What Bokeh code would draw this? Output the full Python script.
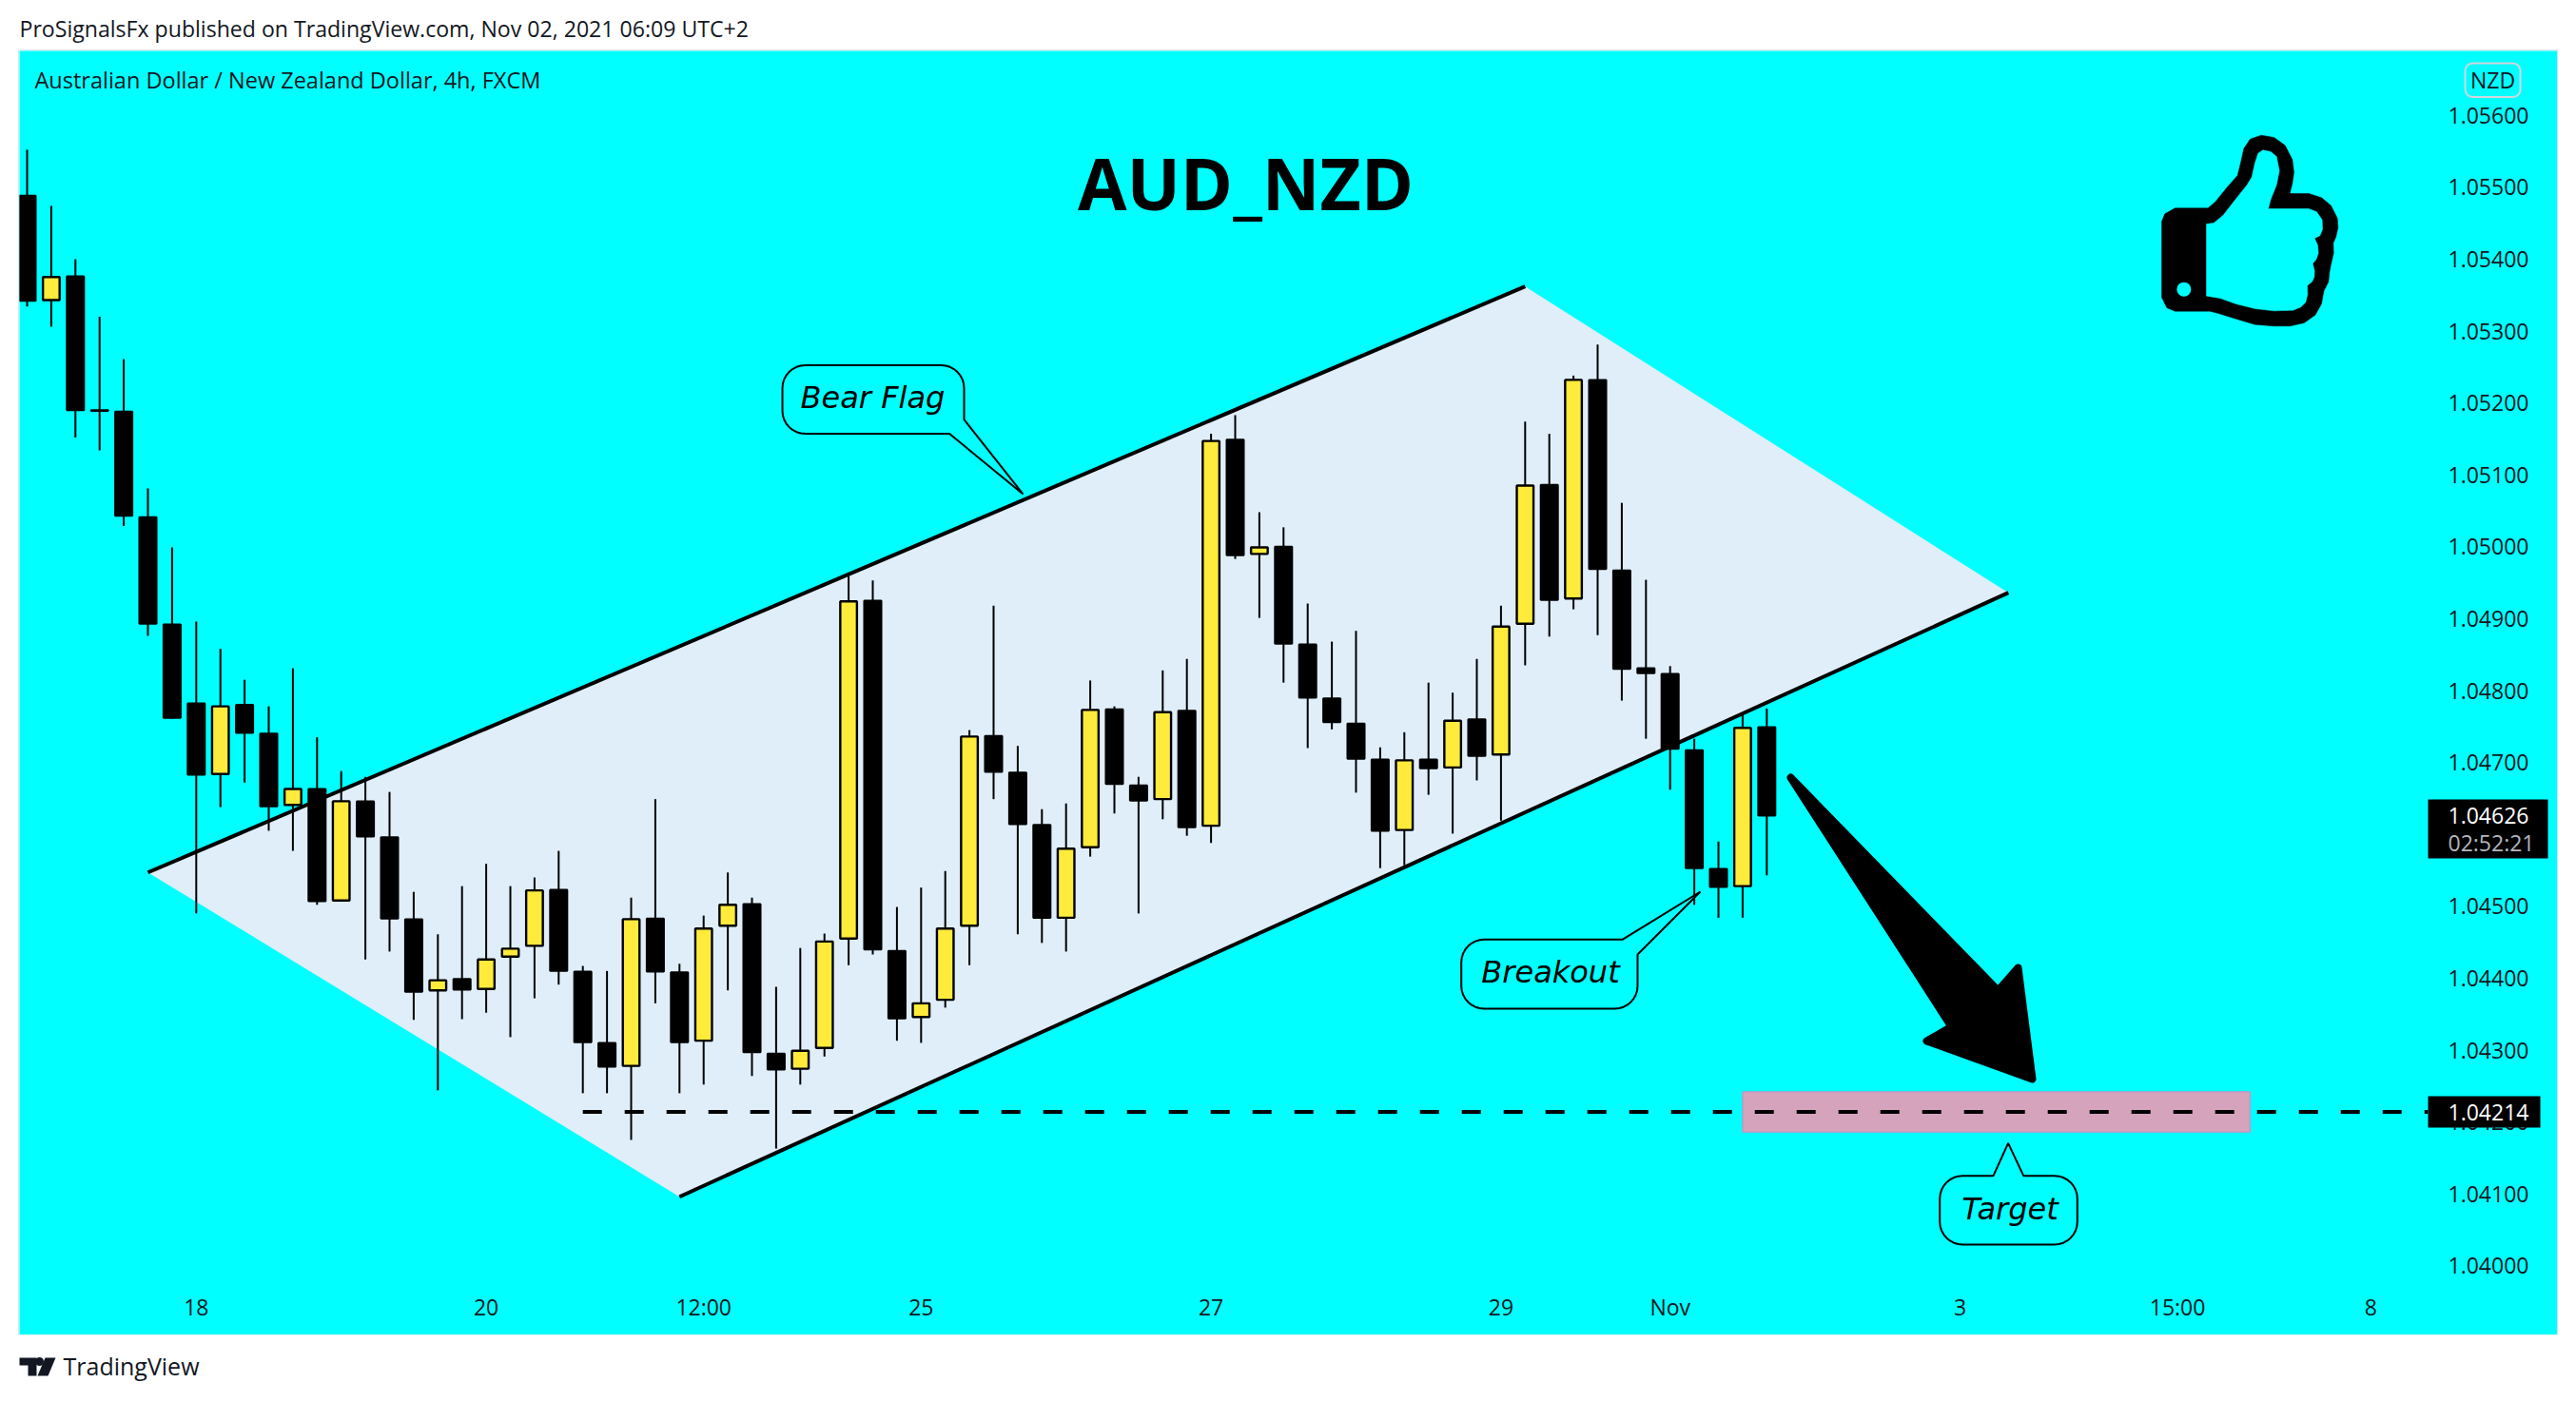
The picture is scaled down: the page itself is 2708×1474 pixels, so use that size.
import math
from bokeh.plotting import figure
from bokeh.layouts import column
from bokeh.models import Range1d, FixedTicker, PrintfTickFormatter, Label, LinearAxis
from bokeh.embed import file_html
from bokeh.resources import INLINE

# ---------- chart values (prices) ----------
opens = [1.05488,1.05343,1.05376,1.05190,1.05188,1.05041,1.04892,1.04782,1.04684,1.04780,1.04740,1.04641,1.04663,1.04508,
 1.04646,1.04596,1.04482,1.04383,1.04399,1.04385,1.04430,1.04445,1.04523,1.04409,1.04310,1.04278,1.04483,1.04408,1.04313,
 1.04473,1.04503,1.04295,1.04274,1.04303,1.04455,1.04925,1.04438,1.04346,1.04370,1.04473,1.04737,1.04686,1.04613,1.04484,
 1.04582,1.04774,1.04668,1.04649,1.04772,1.04612,1.05149,1.04990,1.05000,1.04864,1.04789,1.04754,1.04704,1.04606,1.04704,
 1.04693,1.04760,1.04711,1.04893,1.05086,1.04928,1.05232,1.04967,1.04831,1.04823,1.04717,1.04552,1.04528,1.04749]
highs = [1.05552,1.05474,1.05400,1.05320,1.05261,1.05081,1.04999,1.04896,1.04858,1.04815,1.04778,1.04831,1.04735,1.04688,
 1.04680,1.04659,1.04520,1.04461,1.04528,1.04559,1.04528,1.04540,1.04577,1.04417,1.04410,1.04512,1.04649,1.04420,1.04487,
 1.04547,1.04512,1.04388,1.04442,1.04462,1.04959,1.04953,1.04499,1.04526,1.04549,1.04745,1.04918,1.04723,1.04635,1.04643,
 1.04814,1.04778,1.04680,1.04828,1.04844,1.05157,1.05183,1.05048,1.05027,1.04921,1.04868,1.04883,1.04721,1.04742,1.04811,
 1.04797,1.04844,1.04918,1.05174,1.05157,1.05238,1.05281,1.05061,1.04954,1.04834,1.04733,1.04590,1.04766,1.04775]
lows = [1.05334,1.05306,1.05152,1.05134,1.05029,1.04876,1.04761,1.04490,1.04638,1.04672,1.04605,1.04577,1.04502,1.04507,
 1.04426,1.04437,1.04342,1.04244,1.04343,1.04352,1.04318,1.04372,1.04391,1.04240,1.04240,1.04175,1.04365,1.04240,1.04252,
 1.04383,1.04264,1.04163,1.04252,1.04291,1.04418,1.04433,1.04313,1.04310,1.04359,1.04418,1.04649,1.04461,1.04449,1.04437,
 1.04569,1.04629,1.04490,1.04621,1.04598,1.04588,1.04983,1.04901,1.04811,1.04720,1.04746,1.04658,1.04553,1.04557,1.04655,
 1.04601,1.04675,1.04619,1.04835,1.04875,1.04913,1.04877,1.04786,1.04733,1.04662,1.04502,1.04484,1.04484,1.04543]
closes = [1.05342,1.05375,1.05190,1.05189,1.05043,1.04893,1.04762,1.04683,1.04778,1.04741,1.04639,1.04663,1.04507,1.04646,
 1.04597,1.04483,1.04381,1.04397,1.04384,1.04426,1.04441,1.04522,1.04410,1.04311,1.04277,1.04482,1.04409,1.04311,1.04469,
 1.04502,1.04297,1.04273,1.04299,1.04451,1.04924,1.04440,1.04344,1.04365,1.04469,1.04736,1.04687,1.04614,1.04484,1.04580,
 1.04773,1.04670,1.04647,1.04770,1.04610,1.05147,1.04988,1.04999,1.04865,1.04790,1.04756,1.04705,1.04605,1.04703,1.04692,
 1.04758,1.04709,1.04889,1.05085,1.04926,1.05232,1.04969,1.04830,1.04824,1.04719,1.04553,1.04527,1.04748,1.04626]

price_ticks = [1.04 + 0.001 * k for k in range(17)]
time_ticks = [7, 19, 28, 37, 49, 61, 68, 80, 89, 97]
time_labels = ["18", "20", "12:00", "25", "27", "29", "Nov", "3", "15:00", "8"]

# channel corners: (bar index, price)
flag_left = (5, 1.04547)
flag_top = (62, 1.05362)
flag_right = (82, 1.04936)
flag_bottom = (27, 1.04096)
target_price = 1.04214
last_price = 1.04626
target_zone = (71.0, 92.0, 1.04242, 1.04186)

# ---------- pixel helpers, for decorations only ----------
def X(px): return (px - 28) / 25.4
def Y(py): return 1.056 - (py - 121.7) / 75600

CYAN = "#00FFFF"
INK = "#131722"
FONT = "Open Sans"
BLACK = "#000000"
YELLOW = "#FFEB3B"

p = figure(width=2668, height=1350, output_backend="svg", toolbar_location=None,
           x_range=Range1d(X(20), X(2688)), y_range=Range1d(Y(1404), Y(54)),
           min_border_left=0, min_border_top=0, min_border_right=0, min_border_bottom=0,
           x_axis_location=None, y_axis_location=None,
           background_fill_color=CYAN, border_fill_color=CYAN, outline_line_color=None,
           margin=(0, 0, 0, 12))
p.grid.visible = False
p.styles = {"box-shadow": "0 0 0 1px #d6e6ea"}

ay = LinearAxis(ticker=FixedTicker(ticks=price_ticks), formatter=PrintfTickFormatter(format="%.5f"))
ax = LinearAxis(ticker=FixedTicker(ticks=time_ticks), major_label_overrides=dict(zip(time_ticks, time_labels)))
for a in (ax, ay):
    a.axis_line_color = None
    a.major_tick_line_color = None
    a.minor_tick_line_color = None
    a.major_tick_out = 0
    a.major_label_text_font = FONT
    a.major_label_text_font_size = "23px"
    a.major_label_text_color = INK
ay.major_label_standoff = -115
ax.major_label_standoff = -46
p.add_layout(ay, "right")
p.add_layout(ax, "below")

# channel fill
p.patch([flag_left[0], flag_top[0], flag_right[0], flag_bottom[0]],
        [flag_left[1], flag_top[1], flag_right[1], flag_bottom[1]],
        fill_color="#E0EEFA", line_color=None)

# candles
n = len(opens)
idx = list(range(n))
p.segment(idx, highs, idx, lows, line_color=BLACK, line_width=2)
up = [i for i in idx if closes[i] > opens[i]]
dn = [i for i in idx if closes[i] <= opens[i]]
p.vbar([i for i in dn], 0.71, [opens[i] for i in dn], [closes[i] for i in dn],
       fill_color=BLACK, line_color=BLACK, line_width=2)
p.vbar([i for i in up], 0.69, [closes[i] for i in up], [opens[i] for i in up],
       fill_color=YELLOW, line_color=BLACK, line_width=2.4)

# target zone and dashed level
p.quad(left=target_zone[0], right=target_zone[1], top=target_zone[2], bottom=target_zone[3],
       fill_color="#D5A3BC", line_color="#C88BC4", line_width=1)
p.line([23, 99.37], [target_price, target_price], line_color=BLACK, line_width=4, line_dash="20 24")

# channel lines
p.line([flag_left[0], flag_top[0]], [flag_left[1], flag_top[1]], line_color=BLACK, line_width=4)
p.line([flag_bottom[0], flag_right[0]], [flag_bottom[1], flag_right[1]], line_color=BLACK, line_width=4)

# callouts
def arc(cx, cy, r, a0, a1, steps=8):
    return [(cx + r * math.cos(math.radians(a0 + (a1 - a0) * k / steps)),
             cy + r * math.sin(math.radians(a0 + (a1 - a0) * k / steps))) for k in range(steps + 1)]

def callout(points):
    p.patch([X(q[0]) for q in points], [Y(q[1]) for q in points],
            fill_color=CYAN, line_color=BLACK, line_width=2)

r = 24
l, t, rr, b = 822, 384.5, 1013, 456.5
callout(arc(l + r, t + r, r, 180, 270) + arc(rr - r, t + r, r, 270, 360) +
        [(rr, 441.7), (1075, 520), (997.6, b)] + arc(l + r, b - r, r, 90, 180))
l, t, rr, b = 1535.7, 988.3, 1721, 1061
callout(arc(l + r, t + r, r, 180, 270) + [(1705, t), (1787, 938), (rr, 1004)] +
        arc(rr - r, b - r, r, 0, 90) + arc(l + r, b - r, r, 90, 180))
l, t, rr, b = 2038.7, 1236.7, 2183.3, 1309
callout(arc(l + r, t + r, r, 180, 270) + [(2095, t), (2110.6, 1202.3), (2126.7, t)] +
        arc(rr - r, t + r, r, 270, 360) + arc(rr - r, b - r, r, 0, 90) + arc(l + r, b - r, r, 90, 180))

def text(px, py, s, size, color=BLACK, font=FONT, style="normal", align="center"):
    p.add_layout(Label(x=X(px), y=Y(py), text=s, text_font=font, text_font_size=f"{size}px",
                       text_color=color, text_font_style=style, text_align=align, text_baseline="middle"))

text(917, 418, "Bear Flag", 32, font="DejaVu Sans", style="italic")
text(1629.5, 1022, "Breakout", 32, font="DejaVu Sans", style="italic")
text(2112.5, 1271, "Target", 32, font="DejaVu Sans", style="italic")
text(1309, 192.5, "AUD_NZD", 74.7, font=FONT, style="bold")
text(36, 84.7, "Australian Dollar / New Zealand Dollar, 4h, FXCM", 23.5, color=INK, align="left")

# arrow
arrow = [(1882, 818), (2051, 1080), (2025, 1095), (2136, 1135), (2121, 1018), (2100, 1042)]
p.patch([X(q[0]) for q in arrow], [Y(q[1]) for q in arrow], fill_color=BLACK, line_color=BLACK,
        line_width=8, line_join="round")

# thumbs up, traced in a 3x crop of the picture
def tx(z): return X(2200 + z / 3)
def ty(z): return Y(40 + z / 3)
outer = [(216,820),(216,580),(226,556),(258,538),(362,538),(385,518),(420,475),(455,435),(465,395),(475,350),(495,320),
 (530,308),(570,315),(605,340),(628,385),(633,425),(628,460),(620,492),(680,492),(720,505),(750,530),(770,570),(772,600),
 (765,630),(757,648),(758,680),(750,715),(745,740),(742,770),(727,800),(720,840),(700,875),(665,900),(620,910),(570,910),
 (510,905),(450,887),(395,870),(368,863),(258,863),(232,852)]
hole = [(357,588),(380,585),(410,560),(445,515),(485,465),(500,440),(510,395),(520,365),(535,355),(560,360),(578,375),
 (587,420),(578,465),(560,510),(552,540),(680,540),(705,550),(722,575),(723,605),(715,625),(698,633),(708,655),(710,680),
 (703,700),(692,713),(698,735),(697,755),(690,770),(675,782),(676,810),(670,835),(655,850),(630,860),(570,862),(510,855),
 (450,840),(400,822),(357,815)]
p.patch([tx(q[0]) for q in outer], [ty(q[1]) for q in outer], fill_color=BLACK, line_color=BLACK, line_width=0.5)
p.patch([tx(q[0]) for q in hole], [ty(q[1]) for q in hole], fill_color=CYAN, line_color=CYAN, line_width=0.5)
p.scatter([tx(286)], [ty(794)], size=15, fill_color=CYAN, line_color=None)

# price scale tags, above the axis labels
p.quad(left=X(2552), right=X(2670), top=Y(1153), bottom=Y(1186), fill_color=BLACK, line_color=None, level="annotation")
p.quad(left=X(2552), right=X(2678), top=Y(841), bottom=Y(903), fill_color=BLACK, line_color=None, level="annotation")
for ly, s, col in [(Y(1169.5), "1.04214", "#FFFFFF"), (Y(858), "1.04626", "#FFFFFF"), (Y(886), "02:52:21", "#B2B5BE")]:
    p.add_layout(Label(x=X(2573), y=ly, text=s, text_font=FONT, text_font_size="23px",
                       text_color=col, text_baseline="middle"))
r2 = 8
l, t, rr, b = 2591, 67, 2649, 102.5
badge = arc(l + r2, t + r2, r2, 180, 270) + arc(rr - r2, t + r2, r2, 270, 360) + \
        arc(rr - r2, b - r2, r2, 0, 90) + arc(l + r2, b - r2, r2, 90, 180)
p.patch([X(q[0]) for q in badge], [Y(q[1]) for q in badge], fill_color=None, line_color="#D1D4DC", line_width=2)
text(2620, 84.7, "NZD", 23, color=INK)

# header and footer strips
def strip(h, y0):
    s = figure(width=2692, height=h, output_backend="svg", toolbar_location=None,
               x_range=Range1d(8, 2700), y_range=Range1d(y0 + h, y0),
               min_border=0, x_axis_location=None, y_axis_location=None,
               background_fill_color="#FFFFFF", border_fill_color="#FFFFFF", outline_line_color=None)
    s.grid.visible = False
    return s

head = strip(46, 8)
head.add_layout(Label(x=20, y=30, text="ProSignalsFx published on TradingView.com, Nov 02, 2021 06:09 UTC+2",
                      text_font=FONT, text_font_size="23.1px", text_color=INK, text_baseline="middle"))
foot = strip(62, 1404)
foot.add_layout(Label(x=66, y=1436, text="TradingView", text_font=FONT, text_font_size="25px",
                      text_color=INK, text_baseline="middle"))
foot.patch([20, 38, 38, 29, 29, 20], [1428, 1428, 1447, 1447, 1436, 1436], fill_color=INK, line_color=None)
foot.patch([47, 58, 50, 39], [1428, 1428, 1447, 1447], fill_color=INK, line_color=None)
foot.scatter([41], [1432], size=9, fill_color=INK, line_color=None)

page = column(head, p, foot, spacing=0, margin=(7, 0, 0, 8))
open("out.html", "w").write(file_html(page, INLINE))
